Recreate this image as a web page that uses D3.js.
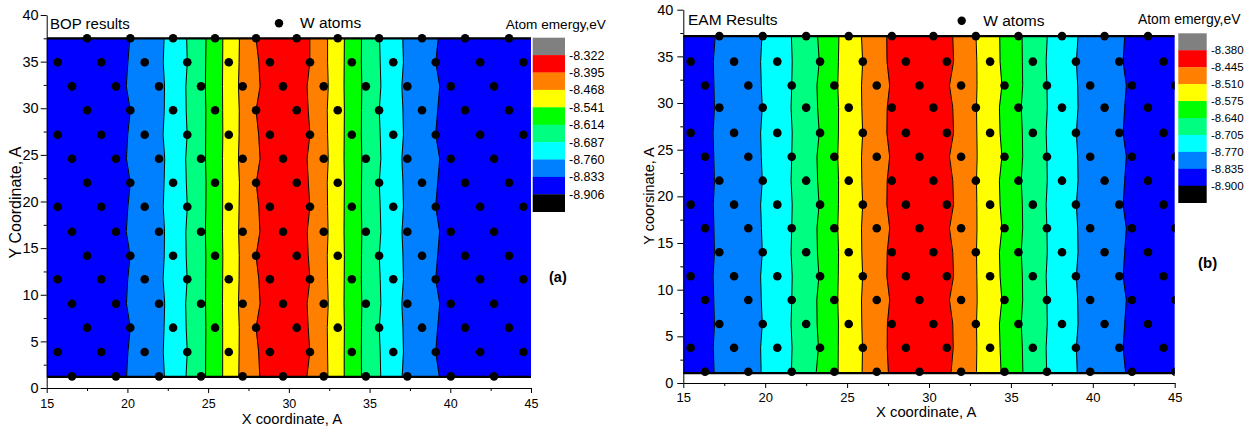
<!DOCTYPE html>
<html>
<head>
<meta charset="utf-8">
<script src="https://cdn.jsdelivr.net/npm/d3@7"></script>
<style>
  body { margin: 0; background: #fff; }
  svg { display: block; font-family: "Liberation Sans", Arial, sans-serif; }
</style>
</head>
<body>
<svg id="fig" width="1256" height="428"></svg>
<script>
// ---------------- data ----------------
const xTicks = [15, 20, 25, 30, 35, 40, 45];
const xMinor = [17.5, 22.5, 27.5, 32.5, 37.5, 42.5];
const yTicks = [0, 5, 10, 15, 20, 25, 30, 35, 40];
const yMinor = [2.5, 7.5, 12.5, 17.5, 22.5, 27.5, 32.5, 37.5];

// fill colours, from "below lowest level" up to "above highest level"
const levelColors = ["#000000", "#0000ff", "#0080ff", "#00ffff", "#00ff80",
                     "#00ff00", "#ffff00", "#ff8000", "#ff0000", "#808080"];

// atom rows, top to bottom; each row follows one of three x sequences
const rowSeq = ["C", "A", "B", "C", "A", "B", "C", "A", "B", "C", "A", "B", "C", "A", "B"];

// colour index of each contour band, left to right
const bandLevel = [1, 2, 3, 4, 5, 6, 7, 8, 7, 6, 5, 4, 3, 2, 1];

// ---- BOP ----
const bopRowY = [37.5, 34.93, 32.35, 29.78, 27.16, 24.59, 22.01, 19.44, 16.76, 14.18, 11.66, 9.04, 6.47, 3.86, 1.25];
const bopAtomA = [15.68, 18.38, 21.07, 23.71, 26.28, 28.83, 31.31, 33.9, 36.47, 39.1, 41.85, 44.53];
const bopAtomB = [16.57, 19.29, 21.96, 24.56, 27.14, 29.64, 32.16, 34.77, 37.34, 40.03, 42.71];
const bopAtomC = [17.5, 20.18, 22.83, 25.43, 27.97, 30.49, 33.03, 35.59, 38.25, 40.92, 43.64];
const bopLevels = [-8.906, -8.833, -8.760, -8.687, -8.614, -8.541, -8.468, -8.395, -8.322];
const bopSlab = [37.5, 1.2];   // top and bottom of the atom slab
// contour boundaries: x at each atom row (top to bottom)
const bopBoundaries = [
  [20.15, 20.03, 19.93, 20.18, 20.02, 19.94, 20.18, 20.03, 19.93, 20.17, 20.02, 19.94, 20.18, 20.03, 19.95],
  [22.27, 22.22, 22.30, 22.28, 22.21, 22.31, 22.27, 22.22, 22.30, 22.28, 22.21, 22.31, 22.27, 22.22, 22.29],
  [23.67, 23.71, 23.62, 23.64, 23.70, 23.61, 23.65, 23.71, 23.62, 23.64, 23.70, 23.61, 23.64, 23.71, 23.63],
  [24.87, 24.85, 24.83, 24.86, 24.85, 24.84, 24.87, 24.86, 24.83, 24.86, 24.85, 24.84, 24.86, 24.85, 24.84],
  [25.91, 25.90, 25.89, 25.90, 25.91, 25.89, 25.90, 25.90, 25.89, 25.91, 25.90, 25.89, 25.90, 25.90, 25.90],
  [26.94, 26.92, 26.88, 26.93, 26.92, 26.88, 26.94, 26.92, 26.89, 26.93, 26.92, 26.88, 26.93, 26.92, 26.90],
  [27.97, 28.14, 28.22, 27.97, 28.13, 28.22, 27.98, 28.14, 28.21, 27.97, 28.14, 28.22, 27.97, 28.13, 28.20],
  [31.30, 31.30, 31.13, 31.20, 31.31, 31.13, 31.21, 31.30, 31.14, 31.20, 31.31, 31.13, 31.20, 31.30, 31.12],
  [32.40, 32.40, 32.44, 32.38, 32.40, 32.44, 32.38, 32.40, 32.43, 32.38, 32.40, 32.44, 32.38, 32.40, 32.42],
  [33.44, 33.43, 33.42, 33.44, 33.43, 33.42, 33.44, 33.43, 33.42, 33.44, 33.43, 33.42, 33.44, 33.43, 33.43],
  [34.50, 34.49, 34.52, 34.50, 34.49, 34.52, 34.50, 34.49, 34.52, 34.50, 34.49, 34.52, 34.50, 34.49, 34.50],
  [35.62, 35.66, 35.70, 35.60, 35.66, 35.70, 35.60, 35.66, 35.70, 35.60, 35.66, 35.70, 35.60, 35.66, 35.69],
  [37.06, 37.10, 37.00, 37.07, 37.10, 37.00, 37.07, 37.10, 37.01, 37.07, 37.10, 37.00, 37.07, 37.10, 37.02],
  [39.26, 39.10, 39.35, 39.22, 39.10, 39.35, 39.22, 39.10, 39.34, 39.22, 39.10, 39.35, 39.22, 39.10, 39.32]
];

// ---- EAM ----
const eamRowY = [37.17, 34.44, 31.87, 29.51, 26.8, 24.25, 21.68, 19.11, 16.58, 14.01, 11.44, 8.9, 6.32, 3.78, 1.21];
const eamAtomA = [15.45, 18.1, 20.74, 23.35, 25.96, 28.59, 31.09, 33.73, 36.34, 38.97, 41.62, 44.32];
const eamAtomB = [16.33, 18.97, 21.62, 24.22, 26.81, 29.42, 31.96, 34.61, 37.2, 39.84, 42.39, 45.04];
const eamAtomC = [17.2, 19.85, 22.5, 25.1, 27.73, 30.27, 32.86, 35.46, 38.12, 40.72, 43.37];
const eamLevels = [-8.900, -8.835, -8.770, -8.705, -8.640, -8.575, -8.510, -8.445, -8.380];
const eamSlab = [37.17, 1.05];
const eamBoundaries = [
  [16.95, 16.83, 16.87, 16.90, 16.82, 16.86, 16.90, 16.83, 16.87, 16.90, 16.82, 16.86, 16.90, 16.83, 16.88],
  [19.80, 19.72, 19.76, 19.82, 19.72, 19.76, 19.82, 19.72, 19.77, 19.82, 19.72, 19.76, 19.82, 19.72, 19.75],
  [21.60, 21.65, 21.62, 21.58, 21.65, 21.62, 21.58, 21.65, 21.62, 21.58, 21.65, 21.62, 21.58, 21.64, 21.60],
  [23.20, 23.30, 23.16, 23.20, 23.30, 23.16, 23.20, 23.29, 23.16, 23.19, 23.28, 23.15, 23.17, 23.25, 23.12],
  [24.50, 24.47, 24.43, 24.48, 24.47, 24.43, 24.48, 24.47, 24.43, 24.48, 24.46, 24.43, 24.47, 24.46, 24.45],
  [25.88, 25.95, 25.88, 25.90, 25.95, 25.88, 25.90, 25.95, 25.88, 25.90, 25.95, 25.88, 25.90, 25.94, 25.92],
  [27.42, 27.44, 27.60, 27.45, 27.43, 27.60, 27.45, 27.43, 27.60, 27.45, 27.43, 27.60, 27.46, 27.45, 27.52],
  [31.45, 31.50, 31.25, 31.45, 31.50, 31.25, 31.45, 31.50, 31.25, 31.45, 31.50, 31.25, 31.45, 31.48, 31.35],
  [32.87, 32.92, 32.93, 32.90, 32.92, 32.94, 32.90, 32.92, 32.93, 32.90, 32.92, 32.94, 32.90, 32.92, 32.90],
  [34.32, 34.34, 34.45, 34.30, 34.34, 34.45, 34.30, 34.34, 34.45, 34.30, 34.34, 34.45, 34.30, 34.34, 34.40],
  [35.68, 35.70, 35.72, 35.63, 35.70, 35.72, 35.63, 35.70, 35.72, 35.63, 35.70, 35.72, 35.63, 35.70, 35.73],
  [37.22, 37.15, 37.20, 37.22, 37.15, 37.20, 37.22, 37.15, 37.20, 37.22, 37.15, 37.20, 37.22, 37.15, 37.18],
  [39.10, 39.00, 39.08, 39.10, 39.00, 39.08, 39.10, 39.00, 39.08, 39.10, 39.00, 39.08, 39.10, 39.00, 39.05],
  [41.95, 41.85, 42.05, 41.95, 41.85, 42.05, 41.95, 41.85, 42.05, 41.95, 41.85, 42.05, 41.95, 41.85, 42.00]
];

// ---------------- drawing ----------------
const svg = d3.select("#fig");
const FONT = '"Liberation Sans", Arial, sans-serif';

function label(g, x, y, s, size, extra = {}) {
  const t = g.append("text").attr("x", x).attr("y", y)
    .attr("font-size", size).attr("fill", "#000").text(s);
  Object.entries(extra).forEach(([k, v]) => t.attr(k, v));
  return t;
}

function drawPanel(p, d, id) {
  const g = svg.append("g");
  const x = d3.scaleLinear().domain([15, 45]).range(p.xRange);
  const y = d3.scaleLinear().domain([0, 40]).range(p.yRange);

  g.append("clipPath").attr("id", "clip" + id).append("rect")
    .attr("x", x(15)).attr("y", y(40))
    .attr("width", x(45) - x(15)).attr("height", y(0) - y(40));
  const plot = g.append("g").attr("clip-path", `url(#clip${id})`);

  const [top, bottom] = d.slab;
  const edgePts = b => [[b[0], top], ...b.map((v, k) => [v, d.rowY[k]]), [b[b.length - 1], bottom]];
  const leftWall = [[15, top], [15, bottom]];
  const rightWall = [[45, top], [45, bottom]];
  const line = d3.line().x(v => x(v[0])).y(v => y(v[1]));

  // contour bands
  d.bands.forEach((lev, j) => {
    const L = j === 0 ? leftWall : edgePts(d.boundaries[j - 1]);
    const R = j === d.bands.length - 1 ? rightWall : edgePts(d.boundaries[j]);
    plot.append("path")
      .attr("d", line(L.concat(R.slice().reverse())) + "Z")
      .attr("fill", levelColors[lev]).attr("stroke", levelColors[lev]).attr("stroke-width", 0.6);
  });
  // contour lines
  d.boundaries.forEach(b => {
    plot.append("path").attr("d", line(edgePts(b)))
      .attr("fill", "none").attr("stroke", "#000").attr("stroke-width", 1);
  });
  // slab surfaces
  [top, bottom].forEach(v => {
    plot.append("line").attr("x1", x(15)).attr("x2", x(45))
      .attr("y1", y(v)).attr("y2", y(v))
      .attr("stroke", "#000").attr("stroke-width", 2.2);
  });
  // atoms
  d.rowY.forEach((ry, k) => {
    plot.selectAll(null).data(d.atoms[rowSeq[k]]).join("circle")
      .attr("cx", v => x(v)).attr("cy", y(ry)).attr("r", 4.3).attr("fill", "#000");
  });

  // axes
  const styleAxis = a => {
    a.selectAll("path.domain").attr("stroke", "#000").attr("stroke-width", 1);
    a.selectAll(".tick line").attr("stroke", "#000").attr("stroke-width", 1);
    a.selectAll(".tick text").attr("fill", "#000").attr("font-family", FONT);
  };
  const xa = g.append("g").attr("transform", `translate(0,${y(0)})`)
    .call(d3.axisBottom(x).tickValues(xTicks).tickSize(5).tickSizeOuter(0).tickPadding(p.xPad));
  xa.selectAll(".tick text").attr("font-size", p.xTickFont);
  styleAxis(xa);
  const xm = g.append("g").attr("transform", `translate(0,${y(0)})`)
    .call(d3.axisBottom(x).tickValues(xMinor).tickSize(3).tickFormat(""));
  xm.select("path.domain").remove();
  styleAxis(xm);

  const ya = g.append("g").attr("transform", `translate(${x(15)},0)`)
    .call(d3.axisLeft(y).tickValues(yTicks).tickSize(6).tickSizeOuter(0).tickPadding(p.yPad));
  ya.selectAll(".tick text").attr("font-size", p.yTickFont);
  styleAxis(ya);
  const ym = g.append("g").attr("transform", `translate(${x(15)},0)`)
    .call(d3.axisLeft(y).tickValues(yMinor).tickSize(3).tickFormat(""));
  ym.select("path.domain").remove();
  styleAxis(ym);

  // colour scale
  const cb = p.colorbar;
  const boxes = levelColors.slice().reverse();
  const cy = d3.scaleLinear().domain([0, boxes.length]).range([cb.top, cb.bottom]);
  g.selectAll(null).data(boxes).join("rect")
    .attr("x", cb.x).attr("width", cb.w)
    .attr("y", (c, i) => cy(i)).attr("height", (c, i) => cy(i + 1) - cy(i) + 0.3)
    .attr("fill", c => c);
  d.levels.slice().reverse().forEach((v, i) => {
    label(g, cb.labelX, cy(i + 1), v.toFixed(3), cb.font, { dy: "0.36em" });
  });

  // titles and legend
  label(g, p.title[0], p.title[1], d.title, p.title[2]);
  g.append("circle").attr("cx", p.legend[0]).attr("cy", p.legend[1]).attr("r", 4.2).attr("fill", "#000");
  label(g, p.legend[2], p.legend[3], "W atoms", p.legend[4]);
  label(g, p.unit[0], p.unit[1], "Atom emergy,eV", p.unit[2]);
  label(g, p.tag[0], p.tag[1], d.tag, p.tag[2], { "font-weight": "bold" });
  label(g, p.xTitle[0], p.xTitle[1], "X coordinate, A", p.xTitle[2]);
  label(g, 0, 0, d.yTitle, p.yTitle[2], {
    "text-anchor": "middle",
    transform: `translate(${p.yTitle[0]},${p.yTitle[1]}) rotate(-90)`
  });
}

drawPanel({
  xRange: [46.7, 531], yRange: [388, 15],
  xPad: 6, yPad: 2, xTickFont: 12.5, yTickFont: 14.5,
  colorbar: { x: 532.7, w: 32.3, top: 37.7, bottom: 211.7, labelX: 569, font: 12.5 },
  title: [50, 29, 15], legend: [279, 23.3, 300, 27.5, 15.5], unit: [505.7, 29, 13.6],
  tag: [549, 282, 14.5], xTitle: [241.7, 423.5, 14.8], yTitle: [20.5, 202.5, 16]
}, {
  title: "BOP results", tag: "(a)", yTitle: "Y Coordinate, A",
  rowY: bopRowY, atoms: { A: bopAtomA, B: bopAtomB, C: bopAtomC },
  levels: bopLevels, slab: bopSlab, bands: bandLevel, boundaries: bopBoundaries
}, "a");

drawPanel({
  xRange: [683.3, 1174.7], yRange: [383, 9.7],
  xPad: 5, yPad: 4, xTickFont: 13, yTickFont: 14.5,
  colorbar: { x: 1178.3, w: 28.4, top: 33.3, bottom: 202.7, labelX: 1211, font: 11.5 },
  title: [688, 24.5, 15.5], legend: [961.7, 20.7, 983.3, 26, 15.5], unit: [1138, 23.5, 13.9],
  tag: [1198, 268, 15], xTitle: [876, 417, 14.8], yTitle: [654, 196, 14.5]
}, {
  title: "EAM Results", tag: "(b)", yTitle: "Y coorsinate, A",
  rowY: eamRowY, atoms: { A: eamAtomA, B: eamAtomB, C: eamAtomC },
  levels: eamLevels, slab: eamSlab, bands: bandLevel, boundaries: eamBoundaries
}, "b");
</script>
</body>
</html>
